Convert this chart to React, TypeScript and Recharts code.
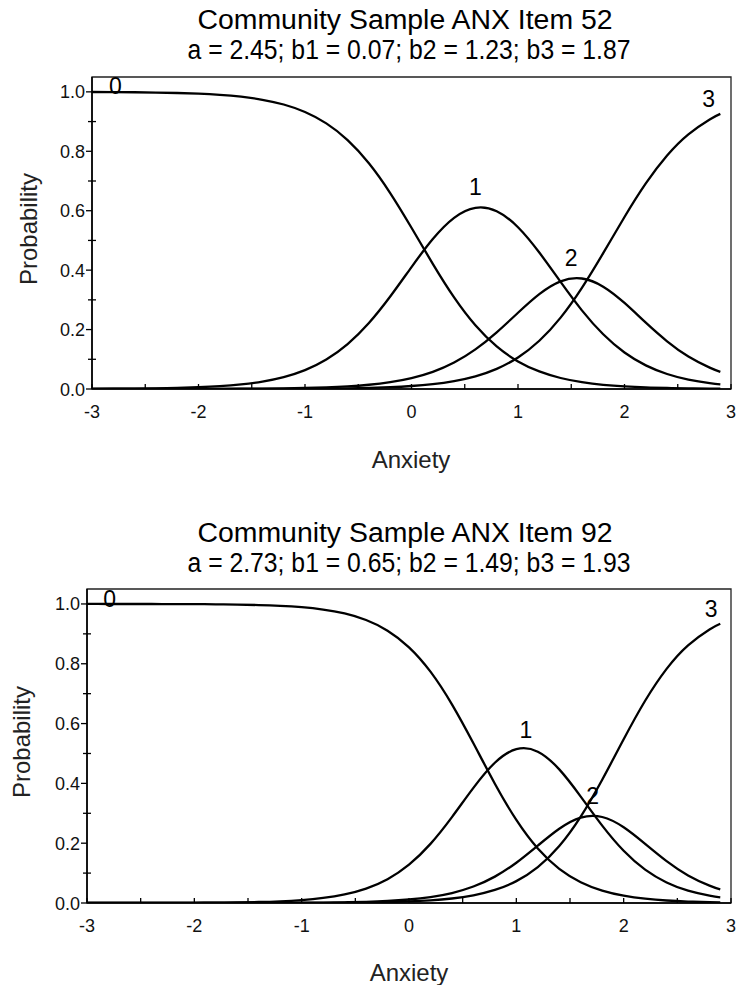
import React from 'react';
import { LineChart, Line, XAxis, YAxis, ReferenceArea, ReferenceDot } from 'recharts';

// ---------- data ----------
const theta = [-3.0, -2.8, -2.6, -2.4, -2.2, -2.0, -1.8, -1.6, -1.4, -1.2, -1.0, -0.8, -0.6, -0.4, -0.2, 0.0, 0.2, 0.4, 0.6, 0.8, 1.0, 1.2, 1.4, 1.6, 1.8, 2.0, 2.2, 2.4, 2.6, 2.8, 2.9];

// Item 52
const item52Cat0 = [0.9995, 0.9991, 0.9986, 0.9977, 0.9962, 0.9938, 0.9899, 0.9836, 0.9734, 0.9574, 0.9322, 0.8939, 0.8377, 0.7598, 0.6596, 0.5428, 0.4211, 0.3082, 0.2144, 0.1432, 0.0929, 0.0591, 0.037, 0.023, 0.0142, 0.0088, 0.0054, 0.0033, 0.002, 0.0012, 0.001];
const item52Cat1 = [0.0005, 0.0008, 0.0014, 0.0022, 0.0036, 0.0059, 0.0095, 0.0155, 0.025, 0.04, 0.0635, 0.0992, 0.1511, 0.2221, 0.3112, 0.4104, 0.5047, 0.5761, 0.6096, 0.5983, 0.5444, 0.4593, 0.3604, 0.2647, 0.1842, 0.1229, 0.0796, 0.0505, 0.0317, 0.0197, 0.0154];
const item52Cat2 = [0.0, 0.0, 0.0001, 0.0001, 0.0002, 0.0003, 0.0005, 0.0008, 0.0013, 0.0021, 0.0033, 0.0054, 0.0088, 0.0143, 0.023, 0.0367, 0.0578, 0.0892, 0.1334, 0.1908, 0.2566, 0.3193, 0.3624, 0.3719, 0.3444, 0.2895, 0.2232, 0.1606, 0.1095, 0.072, 0.0578];
const item52Cat3 = [0.0, 0.0, 0.0, 0.0, 0.0, 0.0001, 0.0001, 0.0002, 0.0003, 0.0005, 0.0009, 0.0014, 0.0023, 0.0038, 0.0062, 0.0101, 0.0164, 0.0266, 0.0426, 0.0678, 0.1061, 0.1623, 0.2402, 0.3404, 0.4572, 0.5789, 0.6918, 0.7856, 0.8568, 0.9071, 0.9258];

// Item 92
const item92Cat0 = [1.0, 0.9999, 0.9999, 0.9998, 0.9996, 0.9993, 0.9988, 0.9979, 0.9963, 0.9936, 0.9891, 0.9813, 0.9681, 0.9462, 0.9106, 0.855, 0.7736, 0.6643, 0.5341, 0.399, 0.2778, 0.1822, 0.1143, 0.0696, 0.0415, 0.0245, 0.0143, 0.0083, 0.0049, 0.0028, 0.0021];
const item92Cat1 = [0.0, 0.0001, 0.0001, 0.0002, 0.0004, 0.0006, 0.0011, 0.0019, 0.0033, 0.0057, 0.0098, 0.0168, 0.0286, 0.0481, 0.0796, 0.1282, 0.1977, 0.2872, 0.385, 0.469, 0.5143, 0.506, 0.4468, 0.3559, 0.2587, 0.1746, 0.1115, 0.0686, 0.0412, 0.0244, 0.0187];
const item92Cat2 = [0.0, 0.0, 0.0, 0.0, 0.0, 0.0001, 0.0001, 0.0002, 0.0003, 0.0005, 0.0008, 0.0013, 0.0023, 0.004, 0.0068, 0.0117, 0.0199, 0.0334, 0.0551, 0.0882, 0.1347, 0.1919, 0.2484, 0.2857, 0.2876, 0.2533, 0.1978, 0.14, 0.0923, 0.0579, 0.0453];
const item92Cat3 = [0.0, 0.0, 0.0, 0.0, 0.0, 0.0, 0.0, 0.0001, 0.0001, 0.0002, 0.0003, 0.0006, 0.001, 0.0017, 0.003, 0.0051, 0.0088, 0.0151, 0.0258, 0.0437, 0.0732, 0.12, 0.1905, 0.2889, 0.4122, 0.5476, 0.6764, 0.783, 0.8617, 0.9149, 0.9339];

// tick values
const xTicks = [-3, -2.5, -2, -1.5, -1, -0.5, 0, 0.5, 1, 1.5, 2, 2.5, 3];
const yTicks = [0, 0.1, 0.2, 0.3, 0.4, 0.5, 0.6, 0.7, 0.8, 0.9, 1.0];

// category label anchors (theta, probability)
const labels52 = [
  { text: '0', x: -2.78, y: 1.02 },
  { text: '1', x: 0.6, y: 0.68 },
  { text: '2', x: 1.5, y: 0.44 },
  { text: '3', x: 2.79, y: 0.975 },
];
const labels92 = [
  { text: '0', x: -2.79, y: 1.017 },
  { text: '1', x: 1.09, y: 0.58 },
  { text: '2', x: 1.71, y: 0.36 },
  { text: '3', x: 2.815, y: 0.983 },
];

const titles52 = ['Community Sample ANX Item 52', 'a = 2.45; b1 = 0.07; b2 = 1.23; b3 = 1.87'];
const titles92 = ['Community Sample ANX Item 92', 'a = 2.73; b1 = 0.65; b2 = 1.49; b3 = 1.93'];

const build = (c0: number[], c1: number[], c2: number[], c3: number[]) =>
  theta.map((t, i) => ({ theta: t, c0: c0[i], c1: c1[i], c2: c2[i], c3: c3[i] }));

const data52 = build(item52Cat0, item52Cat1, item52Cat2, item52Cat3);
const data92 = build(item92Cat0, item92Cat1, item92Cat2, item92Cat3);

const FONT = '"Liberation Sans", Arial, Helvetica, sans-serif';

const XTick = (props: any) => {
  const { x, y, payload } = props;
  const v = payload.value;
  const major = Math.abs(v - Math.round(v)) < 1e-9;
  return (
    <g>
      <line x1={x} x2={x} y1={y} y2={y - 5} stroke="#000" strokeWidth={1.3} />
      {major && (
        <text x={x} y={y + 29} textAnchor="middle" fontSize={18} fontFamily={FONT} fill="#111">
          {String(v)}
        </text>
      )}
    </g>
  );
};

const YTick = (props: any) => {
  const { x, y, payload } = props;
  const v = payload.value;
  const major = Math.round(v * 10) % 2 === 0;
  return (
    <g>
      {major ? (
        <line x1={x - 6} x2={x} y1={y} y2={y} stroke="#000" strokeWidth={1.3} />
      ) : (
        <line x1={x - 4} x2={x + 4} y1={y} y2={y} stroke="#000" strokeWidth={1.3} />
      )}
      {major && (
        <text x={x - 7} y={y + 6.5} textAnchor="end" fontSize={18} fontFamily={FONT} fill="#111">
          {v.toFixed(1)}
        </text>
      )}
    </g>
  );
};

type PanelProps = {
  data: any[];
  labels: { text: string; x: number; y: number }[];
  top: number;
  height: number;
  marginTop: number;
  yAxisWidth: number;
};

const Panel = ({ data, labels, top, height, marginTop, yAxisWidth }: PanelProps) => (
  <div style={{ position: 'absolute', left: 0, top }}>
    <LineChart width={739} height={height} data={data} margin={{ top: marginTop, right: 8, bottom: 0, left: 0 }}>
      <XAxis
        dataKey="theta"
        type="number"
        domain={[-3, 3]}
        ticks={xTicks}
        interval={0}
        height={41}
        tickSize={0}
        tickMargin={0}
        tickLine={false}
        axisLine={{ stroke: '#000', strokeWidth: 1.6 }}
        tick={<XTick />}
        allowDataOverflow
      />
      <YAxis
        type="number"
        domain={[0, 1.05]}
        ticks={yTicks}
        interval={0}
        width={yAxisWidth}
        tickSize={0}
        tickMargin={0}
        tickLine={false}
        axisLine={{ stroke: '#000', strokeWidth: 1.6 }}
        tick={<YTick />}
        allowDataOverflow
      />
      <ReferenceArea x1={-3} x2={3} y1={0} y2={1.05} fill="none" stroke="#222" strokeWidth={1.3} ifOverflow="visible" />
      <Line dataKey="c0" type="natural" stroke="#000" strokeWidth={2.3} dot={false} isAnimationActive={false} />
      <Line dataKey="c1" type="natural" stroke="#000" strokeWidth={2.3} dot={false} isAnimationActive={false} />
      <Line dataKey="c2" type="natural" stroke="#000" strokeWidth={2.3} dot={false} isAnimationActive={false} />
      <Line dataKey="c3" type="natural" stroke="#000" strokeWidth={2.3} dot={false} isAnimationActive={false} />
      {labels.map((l) => (
        <ReferenceDot
          key={l.text}
          x={l.x}
          y={l.y}
          r={0.5}
          fill="none"
          stroke="none"
          ifOverflow="visible"
          label={{ value: l.text, position: 'center', fontSize: 23, fill: '#000', fontFamily: FONT }}
        />
      ))}
    </LineChart>
  </div>
);

export default function App() {
  return (
    <div style={{ position: 'absolute', left: 0, top: 0, width: 739, height: 985, background: '#fff', overflow: 'hidden' }}>
      <Panel data={data52} labels={labels52} top={0} height={430} marginTop={77} yAxisWidth={92} />
      <Panel data={data92} labels={labels92} top={500} height={444} marginTop={89} yAxisWidth={87} />
      <svg width={739} height={985} style={{ position: 'absolute', left: 0, top: 0, pointerEvents: 'none' }}>
        <g fontFamily={FONT} fill="#000" textAnchor="middle">
          <text x={405} y={29} fontSize={27} textLength={415} lengthAdjust="spacingAndGlyphs">{titles52[0]}</text>
          <text x={409} y={59} fontSize={27} textLength={443} lengthAdjust="spacingAndGlyphs">{titles52[1]}</text>
          <text x={411} y={468} fontSize={24} fill="#222">Anxiety</text>
          <text transform="translate(37,229) rotate(-90)" fontSize={24} fill="#222">Probability</text>

          <text x={405} y={542} fontSize={27} textLength={415} lengthAdjust="spacingAndGlyphs">{titles92[0]}</text>
          <text x={409} y={572} fontSize={27} textLength={443} lengthAdjust="spacingAndGlyphs">{titles92[1]}</text>
          <text x={409} y={981} fontSize={24} fill="#222">Anxiety</text>
          <text transform="translate(30,742) rotate(-90)" fontSize={24} fill="#222">Probability</text>
        </g>
      </svg>
    </div>
  );
}
